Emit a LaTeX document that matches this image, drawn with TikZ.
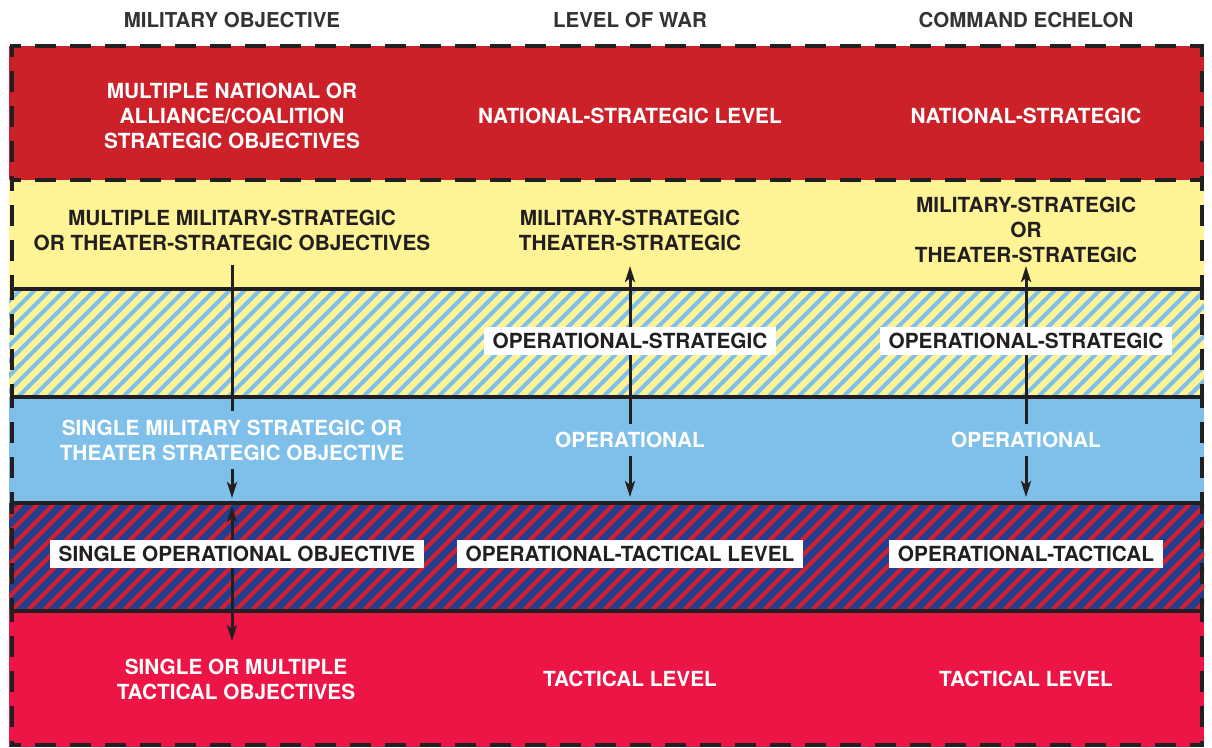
\documentclass[tikz,border=0pt]{standalone}
\usepackage{fontspec}
\setmainfont{TeX Gyre Heros}
\usetikzlibrary{positioning}
\usetikzlibrary{arrows.meta}
\definecolor{natred}{HTML}{CD212A}
\definecolor{paleyel}{HTML}{FEF395}
\definecolor{skyblu}{HTML}{7EC0EA}
\definecolor{navyblu}{HTML}{233E8F}
\definecolor{stripred}{HTML}{D3202E}
\definecolor{crimsn}{HTML}{ED1446}
\definecolor{inkdark}{HTML}{231F20}
\definecolor{inkgray}{HTML}{333333}
\tikzset{
    mynodew/.style = {align=center, inner sep=8pt, font=\bfseries\fontsize{20.8}{25}\selectfont, text=white},
    mynoded/.style = {align=center, inner sep=8pt, font=\bfseries\fontsize{20.8}{25}\selectfont, text=inkdark},
    mynodebox/.style = {fill=white, inner xsep=9pt, inner ysep=7pt, text height=14.5pt, text depth=0pt, font=\bfseries\fontsize{20.8}{25}\selectfont, text=inkdark},
    mynodehead/.style = {font=\bfseries\fontsize{20.5}{24}\selectfont, text=inkgray},
    edgen/.style = {-, line width=4pt, inkdark},
    edged/.style = {-, line width=4.5pt, inkdark, dash pattern=on 21pt off 14pt, dash phase=10pt}, % border
    edgea/.style = {line width=3pt, draw=inkdark, >={Stealth[length=16pt,width=10pt,inset=4pt]}},
    hatchb/.style = {line width=4.2pt, skyblu},
    hatchr/.style = {line width=4pt, stripred}
}

\begin{document}
\begin{tikzpicture}[x=1pt, y=-1pt]
\useasboundingbox (0,0) rectangle (1212,747);
% bands
\fill[natred] (9,46) rectangle (1204,180);
\fill[paleyel] (9,180) rectangle (1204,289);
\begin{scope}
  \clip (9,289) rectangle (1204,397);
  \fill[paleyel] (9,289) rectangle (1204,397);
  \foreach \x in {-120,-105,...,1215}
    \draw[hatchb] (\x,400) -- ++(114,-114);
\end{scope}
\fill[skyblu] (9,397) rectangle (1204,503);
\begin{scope}
  \clip (9,503) rectangle (1204,611);
  \fill[navyblu] (9,503) rectangle (1204,611);
  \foreach \x in {-120,-104,...,1215}
    \draw[hatchr] (\x,614) -- ++(114,-114);
\end{scope}
\fill[crimsn] (9,611) rectangle (1204,747);

% lines
\draw[edgen] (10,289) -- (1204,289);
\draw[edgen] (10,397) -- (1204,397);
\draw[edgen] (10,503) -- (1204,503);
\draw[edgen] (10,611) -- (1204,611);
\draw[edged] (10,46) -- (1204,46);
\draw[edged] (10,180) -- (1204,180);
\draw[edged] (10,745) -- (1204,745);
\foreach \ya/\yb in {46/180,180/289,289/397,397/503,503/611,611/745}{
  \draw[edged] (12,\ya) -- (12,\yb);
  \draw[edged] (1202,\ya) -- (1202,\yb);
}

% headings
\node[mynodehead] (h1) at (232,20) {MILITARY OBJECTIVE};
\node[mynodehead] (h2) at (630,20) {LEVEL OF WAR};
\node[mynodehead] (h3) at (1026,20) {COMMAND ECHELON};

% national-strategic
\node[mynodew] (t1a) at (232,116) {MULTIPLE NATIONAL OR\\ALLIANCE/COALITION\\STRATEGIC OBJECTIVES};
\node[mynodew] (t1b) at (630,116) {NATIONAL-STRATEGIC LEVEL};
\node[mynodew] (t1c) at (1026,116) {NATIONAL-STRATEGIC};
% military-strategic
\node[mynoded] (t2a) at (232,230) {MULTIPLE MILITARY-STRATEGIC\\OR THEATER-STRATEGIC OBJECTIVES};
\node[mynoded] (t2b) at (630,230) {MILITARY-STRATEGIC\\THEATER-STRATEGIC};
\node[mynoded] (t2c) at (1026,230) {MILITARY-STRATEGIC\\OR\\THEATER-STRATEGIC};
% operational
\node[mynodew] (t4a) at (232,440) {SINGLE MILITARY STRATEGIC OR\\THEATER STRATEGIC OBJECTIVE};
\node[mynodew] (t4b) at (630,440) {OPERATIONAL};
\node[mynodew] (t4c) at (1026,440) {OPERATIONAL};
% tactical
\node[mynodew] (t6a) at (236,679) {SINGLE OR MULTIPLE\\TACTICAL OBJECTIVES};
\node[mynodew] (t6b) at (630,679) {TACTICAL LEVEL};
\node[mynodew] (t6c) at (1026,679) {TACTICAL LEVEL};

% arrows
\coordinate (c1top) at (232,265);
\coordinate (c1mid) at (232,498);
\coordinate (c1low) at (232,506);
\coordinate (c1bot) at (232,641);
\coordinate (c2top) at (630,266);
\coordinate (c2bot) at (630,497);
\coordinate (c3top) at (1026,266);
\coordinate (c3bot) at (1026,497);
\draw[edgea] (c1top) -- (t4a);
\draw[edgea,->] (t4a) -- (c1mid);
\draw[edgea,<->] (c1low) -- (c1bot);
\draw[edgea,<-] (c2top) -- (t4b);
\draw[edgea,->] (t4b) -- (c2bot);
\draw[edgea,<-] (c3top) -- (t4c);
\draw[edgea,->] (t4c) -- (c3bot);

% boxed labels
\node[mynodebox] (t3b) at (630,341) {OPERATIONAL-STRATEGIC};
\node[mynodebox] (t3c) at (1026,341) {OPERATIONAL-STRATEGIC};
\node[mynodebox] (t5a) at (237,554) {SINGLE OPERATIONAL OBJECTIVE};
\node[mynodebox] (t5b) at (630,554) {OPERATIONAL-TACTICAL LEVEL};
\node[mynodebox] (t5c) at (1026,554) {OPERATIONAL-TACTICAL};
\end{tikzpicture}
\end{document}
